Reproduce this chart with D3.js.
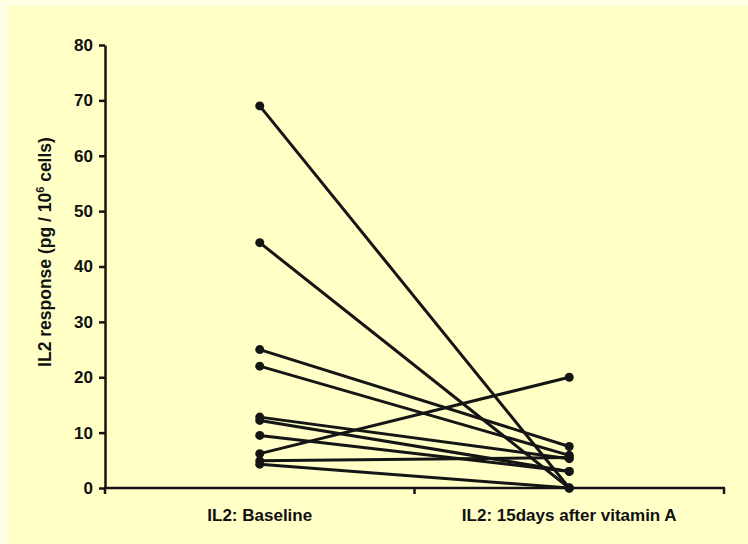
<!DOCTYPE html>
<html>
<head>
<meta charset="utf-8">
<script src="https://cdn.jsdelivr.net/npm/d3@7"></script>
<style>
  html, body { margin: 0; padding: 0; background: #FFFFE6; }
  svg { display: block; }
  text { font-family: "Liberation Sans", Arial, sans-serif; font-weight: bold; fill: #111; }
</style>
</head>
<body>
<svg id="chart" width="748" height="544"></svg>
<script>
// Paired IL2 measurements per subject
const categories = ["IL2: Baseline", "IL2: 15days after vitamin A"];
const baselineValues = [69, 44.3, 25, 22, 12.8, 12.2, 9.5, 6.2, 4.9, 4.3];
const afterValues    = [0, 0, 7.5, 5.9, 5.3, 3, 3, 20, 5.5, 0];
const yTicks = [0, 10, 20, 30, 40, 50, 60, 70, 80];

const svg = d3.select("#chart");
const W = 748, H = 544;

// panel background
svg.append("rect").attr("x", 8).attr("y", 6).attr("width", W - 8).attr("height", H - 6)
  .attr("fill", "#FFFFC6");

const plotLeft = 105, plotRight = 724, plotTop = 45, plotBottom = 488;

const x = d3.scaleBand().domain(categories).range([plotLeft, plotRight]);
const y = d3.scaleLinear().domain([0, 80]).range([plotBottom, plotTop]);

const ink = "#151515";

// y axis
const yAxis = svg.append("g").attr("transform", `translate(${plotLeft},0)`)
  .call(d3.axisLeft(y).tickValues(yTicks).tickSize(6).tickPadding(6).tickSizeOuter(0));
yAxis.select(".domain").attr("stroke", ink).attr("stroke-width", 2.5);
yAxis.selectAll(".tick line").attr("stroke", ink).attr("stroke-width", 2.5);
yAxis.selectAll(".tick text").style("font-size", "17px").attr("fill", ink)
  .style("font-family", "'Liberation Sans', Arial, sans-serif").style("font-weight", "bold");

// x axis: ticks at the band boundaries
const xAxisG = svg.append("g").attr("transform", `translate(0,${plotBottom})`);
xAxisG.append("line").attr("x1", plotLeft - 1).attr("x2", plotRight + 1)
  .attr("stroke", ink).attr("stroke-width", 2.5);
const boundaries = [x(categories[0]), x(categories[1]), x(categories[1]) + x.bandwidth()];
xAxisG.selectAll("line.tk").data(boundaries).join("line").attr("class", "tk")
  .attr("x1", d => d).attr("x2", d => d).attr("y1", 0).attr("y2", 6)
  .attr("stroke", ink).attr("stroke-width", 2.5);
xAxisG.selectAll("text").data(categories).join("text")
  .attr("x", d => x(d) + x.bandwidth() / 2).attr("y", 33)
  .attr("text-anchor", "middle").style("font-size", "17px").text(d => d);

// y axis title
const title = svg.append("text")
  .attr("transform", `translate(51,252) rotate(-90)`)
  .attr("text-anchor", "middle").style("font-size", "17.5px");
title.append("tspan").text("IL2 response (pg / 10");
title.append("tspan").attr("dy", -7).style("font-size", "11px").text("6");
title.append("tspan").attr("dy", 7).text(" cells)");

// paired lines and markers
const cx0 = x(categories[0]) + x.bandwidth() / 2;
const cx1 = x(categories[1]) + x.bandwidth() / 2;
const pairs = baselineValues.map((v, i) => [v, afterValues[i]]);

svg.append("g").selectAll("line").data(pairs).join("line")
  .attr("x1", cx0).attr("y1", d => y(d[0]))
  .attr("x2", cx1).attr("y2", d => y(d[1]))
  .attr("stroke", ink).attr("stroke-width", 3);

const dots = svg.append("g").attr("fill", ink);
dots.selectAll("circle.b").data(baselineValues).join("circle").attr("class", "b")
  .attr("cx", cx0).attr("cy", d => y(d)).attr("r", 4.5);
dots.selectAll("circle.a").data(afterValues).join("circle").attr("class", "a")
  .attr("cx", cx1).attr("cy", d => y(d)).attr("r", 4.5);
</script>
</body>
</html>
